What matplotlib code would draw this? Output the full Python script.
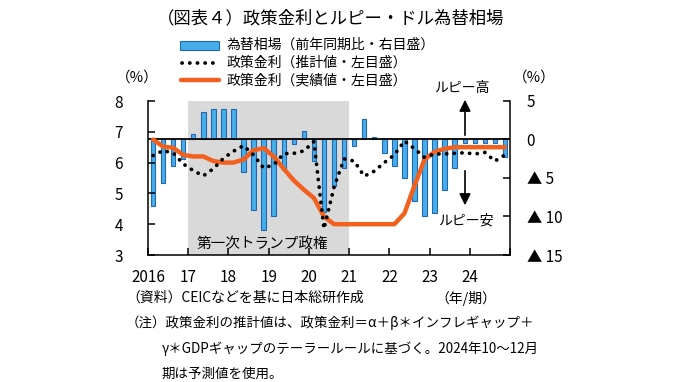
import matplotlib
matplotlib.use("Agg")
import matplotlib.pyplot as plt
from matplotlib.patches import Rectangle
from matplotlib.lines import Line2D
import numpy as np

plt.rcParams['font.family'] = ['Noto Sans CJK JP', 'DejaVu Sans']

# ---------------- data (quarterly, 2016Q1 - 2024Q4) ----------------
years = [2016, 2017, 2018, 2019, 2020, 2021, 2022, 2023, 2024]
quarters_per_year = 4

# exchange rate, rupee vs USD, y/y % (right axis; negative = rupee depreciation)
fx_yoy = [-8.6, -5.6, -3.4, -2.5,
          0.65, 3.6, 3.9, 3.95,
          3.95, -4.2, -9.2, -11.7,
          -9.9, -3.9, -0.6, 1.1,
          -2.8, -9.4, -6.0, -3.7,
          -0.9, 2.7, 0.3, -1.8,
          -3.4, -5.0, -8.0, -9.9,
          -9.6, -6.6, -3.7, -0.5,
          -0.5, -0.5, -0.5, -2.3]

# policy rate, Taylor-rule estimate (left axis)
rate_est = [6.23, 6.39, 6.31, 5.96,
            5.74, 5.57, 5.80, 6.14,
            6.37, 6.55, 6.25, 5.82,
            5.93, 6.29, 6.30, 6.38,
            6.68, 3.85, 5.20, 6.12,
            6.05, 5.56, 5.72, 6.00,
            6.25, 6.70, 6.45, 6.17,
            6.28, 6.28, 6.30, 6.32,
            6.28, 6.33, 6.05, 6.25]

# policy rate, actual (left axis)
rate_act = [6.75, 6.52, 6.48, 6.25,
            6.20, 6.20, 6.05, 6.00,
            6.00, 6.10, 6.40, 6.47,
            6.20, 5.80, 5.42, 5.12,
            4.85, 4.25, 4.00, 4.00,
            4.00, 4.00, 4.00, 4.00,
            4.00, 4.35, 5.25, 6.10,
            6.35, 6.45, 6.50, 6.50,
            6.50, 6.50, 6.50, 6.50]

year_labels = ["2016", "17", "18", "19", "20", "21", "22", "23", "24"]
left_ticks = [3, 4, 5, 6, 7, 8]
right_ticks = [-15, -10, -5, 0, 5]
right_labels = ["▲ 15", "▲ 10", "▲ 5", "0", "5"]
trump_start, trump_end = 2017, 2021

# ---------------- figure ----------------
W, H = 680, 382
fig = plt.figure(figsize=(W / 100, H / 100), dpi=100)

def fx(px):
    return px / W

def fy(py):
    return 1 - py / H

ax_l, ax_r, ax_t, ax_b = 148, 510, 101, 255
ax = fig.add_axes([fx(ax_l), fy(ax_b), fx(ax_r) - fx(ax_l), fy(ax_t) - fy(ax_b)])
ax2 = ax.twinx()
ax.set_zorder(ax2.get_zorder() + 1)
ax.patch.set_visible(False)

n = len(fx_yoy)
t = np.array([years[0] + (i + 0.5) / quarters_per_year for i in range(n)])

bar_c = '#45AEEA'
bar_e = '#2467B0'
orange = '#F2601E'
dot_style = (0, (0.05, 2.0))

# shaded Trump period (on ax2, behind bars)
ax2.axvspan(trump_start, trump_end, color='#D9D9D9', zorder=0, lw=0)
ax2.bar(t, fx_yoy, width=0.11, color=bar_c, edgecolor=bar_e, linewidth=0.8, zorder=2)
ax2.axhline(0, color='black', lw=1.3, zorder=3)

ax.plot(t, rate_act, color=orange, lw=3.2, solid_capstyle='round', solid_joinstyle='round', zorder=4)
ax.plot(t, rate_est, color='black', lw=2.7, linestyle=dot_style, dash_capstyle='round', zorder=5)

ax.set_xlim(2016, 2025)
ax.set_ylim(3, 8)
ax2.set_ylim(-15, 5)

ax.set_yticks(left_ticks)
ax.set_yticklabels([str(v) for v in left_ticks])
ax2.set_yticks(right_ticks)
ax2.set_yticklabels(right_labels)
ax.set_xticks(list(range(2016, 2026)))
ax.set_xticklabels(year_labels + [""])

for a in (ax, ax2):
    a.spines['top'].set_visible(False)
    for s in a.spines.values():
        s.set_linewidth(1.1)
ax.spines['right'].set_visible(False)
ax2.spines['left'].set_visible(False)
ax2.spines['bottom'].set_visible(False)

ax.tick_params(axis='y', direction='in', length=5, width=1.1, labelsize=11, pad=18)
ax.tick_params(axis='x', direction='in', length=5, width=1.1, labelsize=11, pad=10)
ax2.tick_params(axis='y', direction='in', length=5, width=1.1, labelsize=11, pad=12)

ax2.text(2018.85, -13.6, "第一次トランプ政権", ha='center', va='center', fontsize=10.5, zorder=6)

# ---------------- texts ----------------
fig.text(fx(331), fy(18), "（図表４）政策金利とルピー・ドル為替相場", ha='center', va='center', fontsize=12.5)

# legend
fig.patches.append(Rectangle((fx(180), fy(50)), fx(219) - fx(180), fy(41) - fy(50),
                             transform=fig.transFigure, facecolor=bar_c, edgecolor=bar_e, lw=0.8))
fig.lines.append(Line2D([fx(182), fx(219)], [fy(63), fy(63)], transform=fig.transFigure,
                        color='black', lw=2.7, linestyle=dot_style, dash_capstyle='round'))
fig.lines.append(Line2D([fx(181), fx(219)], [fy(80), fy(80)], transform=fig.transFigure,
                        color=orange, lw=3.2, solid_capstyle='round'))
leg_fs = 10
fig.text(fx(227), fy(45), "為替相場（前年同期比・右目盛）", ha='left', va='center', fontsize=leg_fs)
fig.text(fx(227), fy(63), "政策金利（推計値・左目盛）", ha='left', va='center', fontsize=leg_fs)
fig.text(fx(227), fy(80), "政策金利（実績値・左目盛）", ha='left', va='center', fontsize=leg_fs)

fig.text(fx(137), fy(78), "（%）", ha='center', va='center', fontsize=10.5)
fig.text(fx(534), fy(78), "（%）", ha='center', va='center', fontsize=10.5)

# rupee arrows
fig.text(fx(462), fy(88), "ルピー高", ha='center', va='center', fontsize=10)
fig.text(fx(466), fy(221), "ルピー安", ha='center', va='center', fontsize=10)
ax.annotate("", xy=(fx(465), fy(97)), xytext=(fx(465), fy(138)), xycoords='figure fraction',
            textcoords='figure fraction',
            arrowprops=dict(arrowstyle='-|>', color='black', lw=1.2, mutation_scale=17))
ax.annotate("", xy=(fx(465), fy(208)), xytext=(fx(465), fy(168)), xycoords='figure fraction',
            textcoords='figure fraction',
            arrowprops=dict(arrowstyle='-|>', color='black', lw=1.2, mutation_scale=17))

foot_fs = 10
note_fs = 9.7
fig.text(fx(126), fy(298), "（資料）CEICなどを基に日本総研作成", ha='left', va='center', fontsize=foot_fs)
fig.text(fx(466), fy(298), "（年/期）", ha='center', va='center', fontsize=foot_fs)
fig.text(fx(126), fy(323), "（注）政策金利の推計値は、政策金利＝α＋β＊インフレギャップ＋",
         ha='left', va='center', fontsize=note_fs)
fig.text(fx(162), fy(349), "γ＊GDPギャップのテーラールールに基づく。2024年10～12月",
         ha='left', va='center', fontsize=note_fs)
fig.text(fx(162), fy(374), "期は予測値を使用。", ha='left', va='center', fontsize=note_fs)

fig.savefig("out.png", dpi=100)
